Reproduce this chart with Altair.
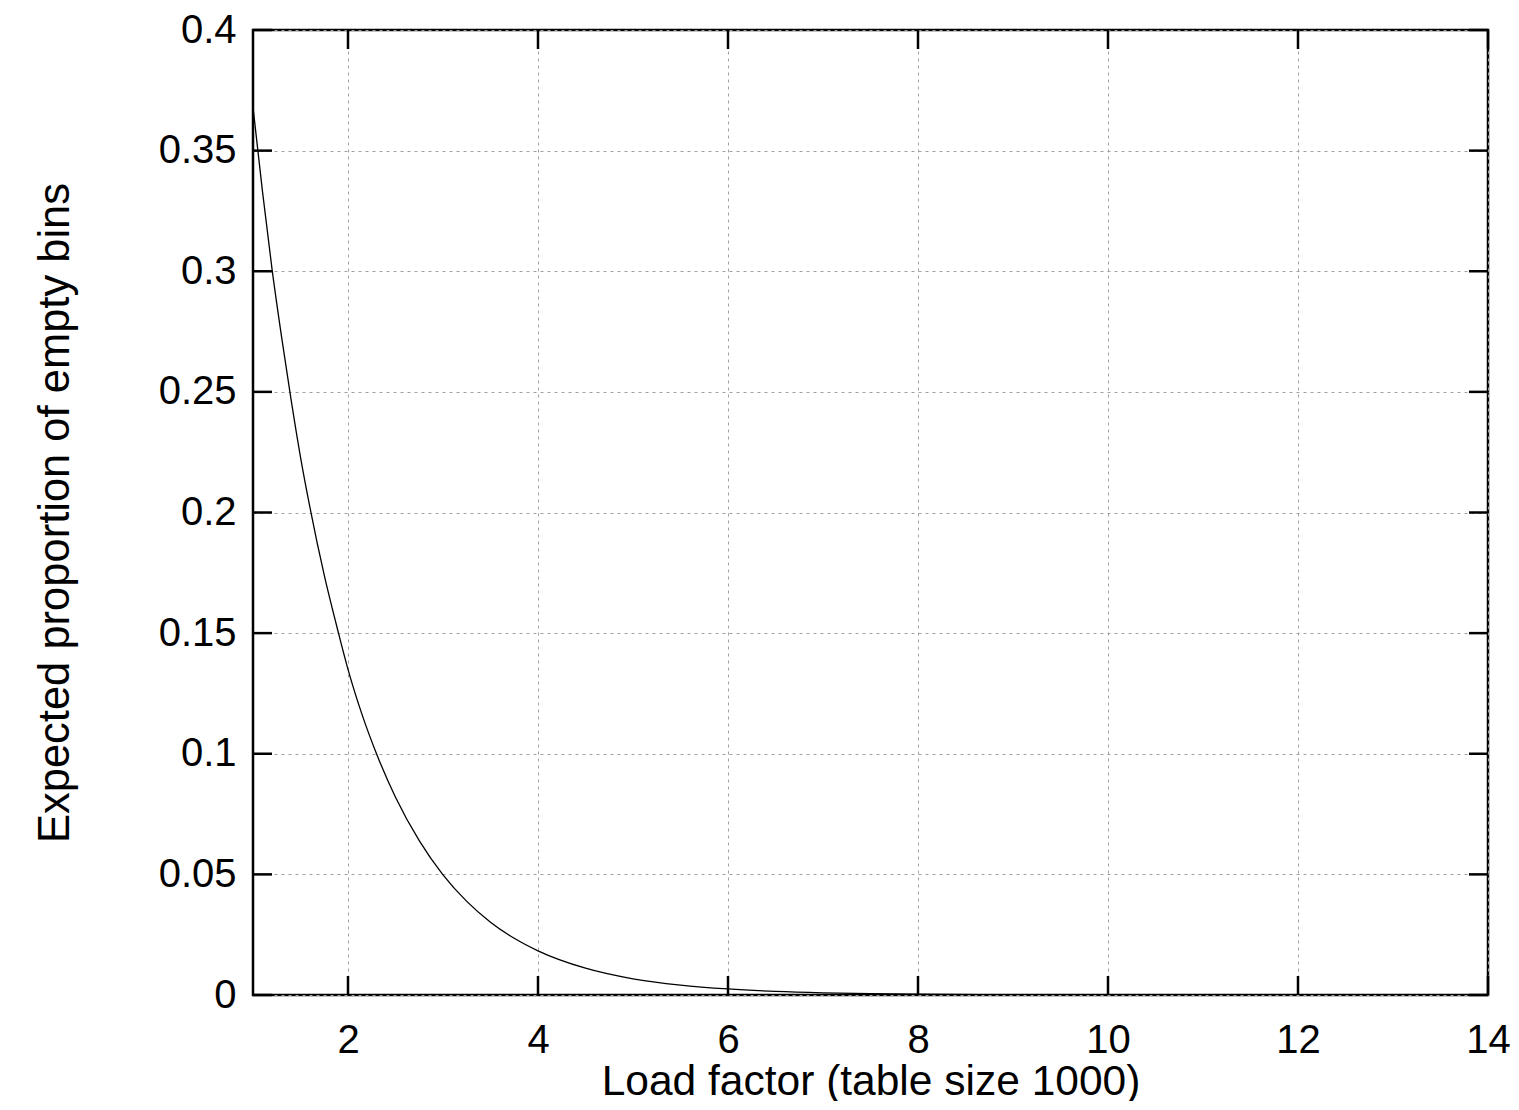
import altair as alt
import pandas as pd

# Curve
load_factor = [1.0, 1.1, 1.2, 1.3, 1.4, 1.5, 1.6, 1.75, 1.9, 2.0, 2.15, 2.3, 2.5, 2.75,
               3.0, 3.25, 3.5, 3.75, 4.0, 4.5, 5.0, 5.5, 6.0, 6.5, 7.0, 7.5, 8.0,
               9.0, 10.0, 11.0, 12.0, 13.0, 14.0]
empty_prop = [0.368, 0.333, 0.301, 0.273, 0.247, 0.223, 0.202, 0.174, 0.150, 0.135,
              0.116, 0.100, 0.082, 0.064, 0.0498, 0.0388, 0.0302, 0.0235, 0.0183, 0.0111,
              0.0067, 0.0041, 0.0025, 0.0015, 0.0009, 0.00055, 0.00034, 0.00012,
              0.00005, 0.00002, 0.00001, 0.0, 0.0]

x_ticks = [2, 4, 6, 8, 10, 12, 14]
y_ticks = [0, 0.05, 0.1, 0.15, 0.2, 0.25, 0.3, 0.35, 0.4]

W, H = 1235, 965
TICK = 19
FONT = "Liberation Sans"

curve = pd.DataFrame({"x": load_factor, "y": empty_prop})
xt = pd.DataFrame({"x": x_ticks})
yt = pd.DataFrame({"y": y_ticks})

xscale = alt.Scale(domain=[1, 14], nice=False, zero=False)
yscale = alt.Scale(domain=[0, 0.4], nice=False)

xaxis = alt.Axis(values=x_ticks, format="~g", title="Load factor (table size 1000)", grid=True,
                 gridColor="#a0a0a0", gridDash=[3, 4], gridWidth=1,
                 domain=False, ticks=False, labelFont=FONT, labelFontSize=40,
                 labelPadding=25, labelColor="black", labelFlush=False, labelOverlap=False,
                 titleFont=FONT, titleFontSize=42.5,
                 titleFontWeight="normal", titleColor="black", titlePadding=0)
yaxis = alt.Axis(values=y_ticks, format="~g", title="Expected proportion of empty bins",
                 grid=True, gridColor="#a0a0a0", gridDash=[3, 4], gridWidth=1,
                 domain=False, ticks=False, labelFont=FONT, labelFontSize=40,
                 labelPadding=17, labelColor="black", labelFlush=False, labelOverlap=False,
                 titleFont=FONT, titleFontSize=43.5,
                 titleFontWeight="normal", titleColor="black", titlePadding=81)

line = alt.Chart(curve).mark_line(color="black", strokeWidth=1.3, interpolate="monotone", clip=True).encode(
    x=alt.X("x:Q", scale=xscale, axis=xaxis),
    y=alt.Y("y:Q", scale=yscale, axis=yaxis),
)

tick_style = dict(color="black", strokeWidth=2.5)
xt_bottom = alt.Chart(xt).mark_rule(**tick_style).encode(
    x=alt.X("x:Q", scale=xscale), y=alt.value(H - TICK), y2=alt.value(H))
xt_top = alt.Chart(xt).mark_rule(**tick_style).encode(
    x=alt.X("x:Q", scale=xscale), y=alt.value(0), y2=alt.value(TICK))
yt_left = alt.Chart(yt).mark_rule(**tick_style).encode(
    y=alt.Y("y:Q", scale=yscale), x=alt.value(0), x2=alt.value(TICK))
yt_right = alt.Chart(yt).mark_rule(**tick_style).encode(
    y=alt.Y("y:Q", scale=yscale), x=alt.value(W - TICK), x2=alt.value(W))

chart = alt.layer(line, xt_bottom, xt_top, yt_left, yt_right).properties(
    width=W, height=H,
    autosize=alt.AutoSizeParams(type="none"),
    padding={"left": 245, "top": 22, "right": 22, "bottom": 106},
).configure(background="white").configure_view(stroke="black", strokeWidth=2.5)

chart.save("out.html", embed_options={"renderer": "svg", "actions": False})
